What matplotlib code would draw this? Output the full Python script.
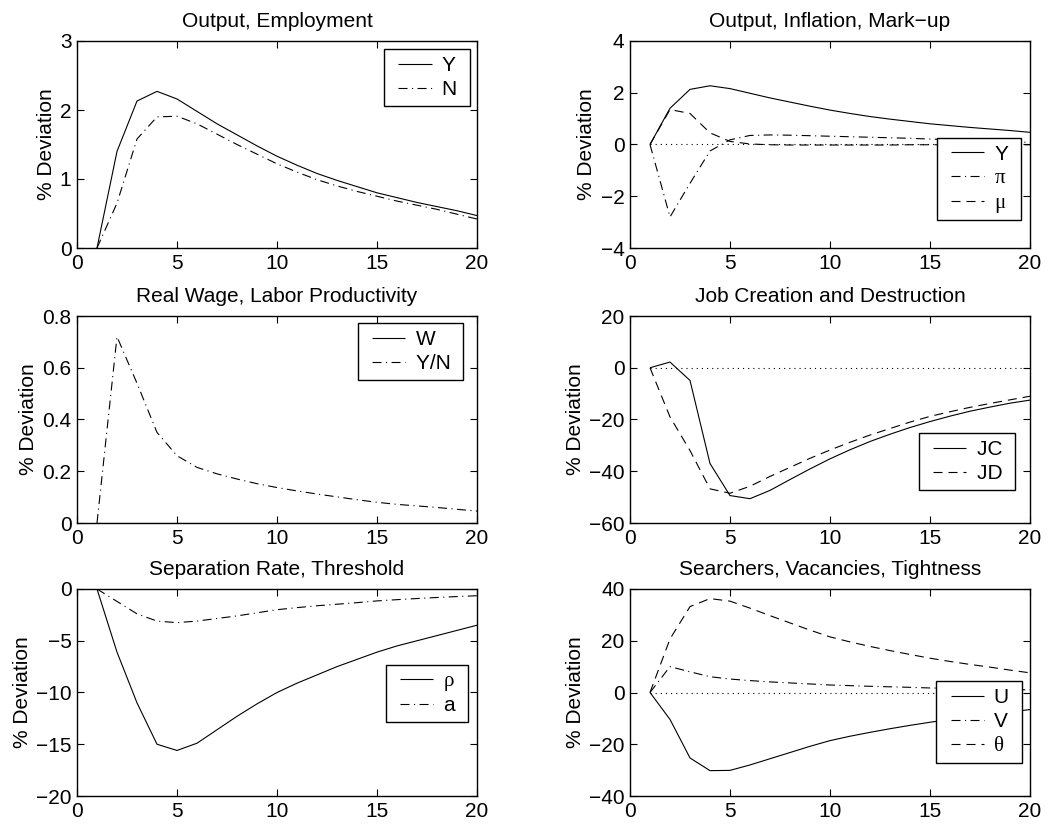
import matplotlib
matplotlib.use("Agg")
import matplotlib.pyplot as plt
from matplotlib.lines import Line2D
from matplotlib.legend_handler import HandlerLine2D

plt.rcParams['font.family'] = ['Liberation Sans', 'DejaVu Sans']
plt.rcParams['lines.scale_dashes'] = False

periods = list(range(1, 21))

# Output, Employment
Y = [0, 1.40, 2.13, 2.27, 2.16, 1.98, 1.80, 1.64, 1.48, 1.33, 1.20, 1.08, 0.98, 0.89, 0.80, 0.73, 0.66, 0.60, 0.54, 0.47]
N = [0, 0.65, 1.58, 1.90, 1.91, 1.80, 1.65, 1.50, 1.36, 1.22, 1.10, 0.99, 0.90, 0.82, 0.75, 0.68, 0.62, 0.56, 0.49, 0.42]

# Output, Inflation, Mark-up
PI = [0, -2.8, -1.5, -0.25, 0.18, 0.35, 0.37, 0.36, 0.34, 0.32, 0.30, 0.28, 0.26, 0.24, 0.21, 0.19, 0.16, 0.14, 0.11, 0.08]
MU = [0, 1.35, 1.20, 0.45, 0.12, 0.02, -0.01, -0.02, -0.02, -0.02, -0.02, -0.02, -0.02, -0.01, -0.01, -0.01, -0.01, -0.01, -0.01, -0.01]

# Real Wage, Labor Productivity
W = [0] * 20
YN = [0, 0.72, 0.54, 0.35, 0.26, 0.215, 0.19, 0.17, 0.152, 0.137, 0.124, 0.112, 0.101, 0.090, 0.080, 0.072, 0.066, 0.060, 0.053, 0.046]

# Job Creation and Destruction
JC = [0, 2.2, -4.9, -37, -49.4, -50.6, -47.4, -43.2, -39.1, -35.2, -31.7, -28.5, -25.7, -23.1, -20.8, -18.7, -16.8, -15.2, -13.7, -12.5]
JD = [0, -19, -32, -46.8, -48.5, -45.8, -42.0, -38.5, -35.0, -31.8, -28.8, -26.0, -23.5, -21.0, -18.8, -17.0, -15.3, -13.8, -12.4, -11.0]

# Separation Rate, Threshold
RHO = [0, -6.1, -11.0, -15.0, -15.6, -14.9, -13.6, -12.3, -11.1, -10.0, -9.1, -8.3, -7.5, -6.8, -6.1, -5.5, -5.0, -4.5, -4.0, -3.5]
A = [0, -1.2, -2.4, -3.1, -3.25, -3.1, -2.85, -2.6, -2.3, -2.0, -1.8, -1.62, -1.47, -1.32, -1.15, -1.03, -0.92, -0.82, -0.73, -0.65]

# Searchers, Vacancies, Tightness
U = [0, -10.4, -25.3, -30.2, -30.1, -28.0, -25.6, -23.2, -20.8, -18.6, -16.9, -15.4, -14.0, -12.7, -11.5, -10.4, -9.4, -8.5, -7.5, -6.6]
V = [0, 10.0, 8.0, 6.1, 5.2, 4.6, 4.1, 3.7, 3.3, 2.9, 2.65, 2.4, 2.2, 2.0, 1.75, 1.6, 1.45, 1.3, 1.15, 1.0]
THETA = [0, 20.7, 33.2, 36.3, 35.3, 32.6, 29.7, 26.9, 24.1, 21.5, 19.55, 17.8, 16.2, 14.7, 13.25, 12.0, 10.85, 9.8, 8.65, 7.6]

titles = ["Output, Employment", "Output, Inflation, Mark\u2212up",
          "Real Wage, Labor Productivity", "Job Creation and Destruction",
          "Separation Rate, Threshold", "Searchers, Vacancies, Tightness"]

SOLID = (0, ())
DASHDOT = (0, (6.5, 3.2, 0.8, 3.2))
DASHED = (0, (6.5, 4.3))
DOTTED = (0, (0.8, 2.9))
LW = 0.8
FS = 15

fig = plt.figure(figsize=(10.53, 8.30), dpi=100)
W_AX = 400 / 1053
H_AX = 207 / 830
lefts = [77 / 1053, 630 / 1053]
bottoms = [1 - 248 / 830, 1 - 523 / 830, 1 - 796 / 830]

axes = []
for r in range(3):
    for c in range(2):
        ax = fig.add_axes([lefts[c], bottoms[r], W_AX, H_AX])
        axes.append(ax)


def style(ax, title, ylim, yticks, yfmt=None):
    ax.set_xlim(0, 20)
    ax.set_ylim(*ylim)
    ax.set_xticks([0, 5, 10, 15, 20])
    ax.set_yticks(yticks)
    if yfmt:
        ax.set_yticklabels([yfmt(v) for v in yticks])
    else:
        ax.set_yticklabels([("%g" % v).replace('-', '\u2212') for v in yticks])
    ax.tick_params(direction='in', top=True, right=True, length=5, width=0.8,
                   labelsize=FS, pad=4)
    for s in ax.spines.values():
        s.set_linewidth(1.0)
    ax.set_title(title, fontsize=FS, pad=10)
    ax.set_ylabel("% Deviation", fontsize=FS, labelpad=3)


def legend(ax, handles, labels, loc, anchor, greek=()):
    labels = [l + " " for l in labels]
    leg = ax.legend(handles, labels, loc=loc, bbox_to_anchor=anchor, fontsize=FS,
                    frameon=True, fancybox=False, edgecolor='black', framealpha=1,
                    handlelength=1.95, handletextpad=0.5, borderpad=0.33,
                    labelspacing=0.25, borderaxespad=0,
                    handler_map={Line2D: HandlerLine2D(xpad=0.35)})
    leg.get_frame().set_linewidth(1.0)
    for t in leg.get_texts():
        if t.get_text().strip() in greek:
            t.set_fontfamily(['Liberation Serif', 'DejaVu Serif'])
    return leg

# Panel 1
ax = axes[0]
l1, = ax.plot(periods, Y, color='black', lw=LW, linestyle=SOLID)
l2, = ax.plot(periods, N, color='black', lw=LW, linestyle=DASHDOT)
style(ax, titles[0], (0, 3), [0, 1, 2, 3])
legend(ax, [l1, l2], ['Y', 'N'], 'upper right', (0.9825, 0.961))

# Panel 2
ax = axes[1]
ax.plot(periods, [0] * 20, color='black', lw=LW, linestyle=DOTTED)
l1, = ax.plot(periods, Y, color='black', lw=LW, linestyle=SOLID)
l2, = ax.plot(periods, PI, color='black', lw=LW, linestyle=DASHDOT)
l3, = ax.plot(periods, MU, color='black', lw=LW, linestyle=DASHED)
style(ax, titles[1], (-4, 4), [-4, -2, 0, 2, 4])
legend(ax, [l1, l2, l3], ['Y', '\u03c0', '\u03bc'], 'lower right', (0.9775, 0.135),
       greek=('\u03c0', '\u03bc'))

# Panel 3
ax = axes[2]
l1, = ax.plot(periods, W, color='black', lw=LW, linestyle=SOLID)
l2, = ax.plot(periods, YN, color='black', lw=LW, linestyle=DASHDOT)
style(ax, titles[2], (0, 0.8), [0, 0.2, 0.4, 0.6, 0.8],
      yfmt=lambda v: "0" if v == 0 else "%.1f" % v)
legend(ax, [l1, l2], ['W', 'Y/N'], 'upper right', (0.965, 0.966))

# Panel 4
ax = axes[3]
ax.plot(periods, [0] * 20, color='black', lw=LW, linestyle=DOTTED)
l1, = ax.plot(periods, JC, color='black', lw=LW, linestyle=SOLID)
l2, = ax.plot(periods, JD, color='black', lw=LW, linestyle=DASHED)
style(ax, titles[3], (-60, 20), [-60, -40, -20, 0, 20])
legend(ax, [l1, l2], ['JC', 'JD'], 'lower right', (0.9625, 0.159))

# Panel 5
ax = axes[4]
l1, = ax.plot(periods, RHO, color='black', lw=LW, linestyle=SOLID)
l2, = ax.plot(periods, A, color='black', lw=LW, linestyle=DASHDOT)
style(ax, titles[4], (-20, 0), [-20, -15, -10, -5, 0])
legend(ax, [l1, l2], ['\u03c1', 'a'], 'lower right', (0.9775, 0.357), greek=('\u03c1',))

# Panel 6
ax = axes[5]
ax.plot(periods, [0] * 20, color='black', lw=LW, linestyle=DOTTED)
l1, = ax.plot(periods, U, color='black', lw=LW, linestyle=SOLID)
l2, = ax.plot(periods, V, color='black', lw=LW, linestyle=DASHDOT)
l3, = ax.plot(periods, THETA, color='black', lw=LW, linestyle=DASHED)
style(ax, titles[5], (-40, 40), [-40, -20, 0, 20, 40])
legend(ax, [l1, l2, l3], ['U', 'V', '\u03b8'], 'lower right', (0.98, 0.159),
       greek=('\u03b8',))

fig.savefig("out.png", dpi=100, facecolor='white')
